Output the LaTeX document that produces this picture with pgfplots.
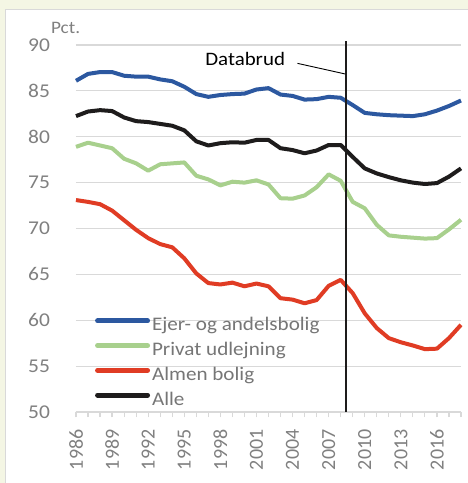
\documentclass[border=0pt]{standalone}
\usepackage{fontspec}
\setmainfont{Carlito}[FakeStretch=1.1]
\newfontfamily\tickfont{Carlito}
\usepackage{pgfplots}
\pgfplotsset{compat=1.18}
\definecolor{cream}{RGB}{244,246,228}
\definecolor{gridgray}{RGB}{217,217,217}
\definecolor{tickgray}{RGB}{128,128,128}
\definecolor{legendgray}{RGB}{118,118,118}
\definecolor{cblue}{RGB}{44,88,160}
\definecolor{cgreen}{RGB}{168,208,141}
\definecolor{cred}{RGB}{224,60,36}
\definecolor{cblack}{RGB}{30,28,28}
\begin{document}
\begin{tikzpicture}[x=1pt,y=1pt]
\fill[cream] (0,0) rectangle (468,483);
\fill[white] (5,0) rectangle (468,474);
\draw[gridgray, line width=0.8pt] (5.4,0) -- (5.4,473.6) -- (468,473.6);
\begin{axis}[
  at={(76pt,71pt)}, anchor=south west,
  width=385pt, height=367pt, scale only axis,
  xmin=1986, xmax=2018, ymin=50, ymax=90,
  axis x line*=bottom, axis y line*=left,
  y axis line style={draw=none},
  x axis line style={draw=gridgray, line width=1.2pt},
  ytick={50,55,...,90}, ytick style={draw=none},
  ymajorgrids, grid style={gridgray, line width=1.2pt},
  xtick={1986,1989,...,2016}, minor xtick={1986,...,2018},
  tick align=outside,
  major tick length=5pt, minor tick length=5pt,
  xtick style={draw=gridgray, line width=1.2pt},
  minor tick style={draw=gridgray, line width=1.2pt},
  xticklabel={\pgfmathprintnumber{\tick}\hspace*{9pt}},
  xticklabel style={rotate=90, anchor=east, font=\tickfont\fontsize{20}{20}\selectfont, text=tickgray},
  yticklabel style={font=\fontsize{19.5}{20}\selectfont, text=tickgray, xshift=-17.5pt},
  /pgf/number format/assume math mode=true,
  /pgf/number format/1000 sep={},
  clip=false,
  legend cell align=left,
  legend style={draw=none, fill=none, at={(0.049,0.266)}, anchor=north west, inner sep=0pt, row sep=0pt,
    nodes={inner xsep=2pt, inner ysep=2.85pt, text height=13.5pt, text depth=5.5pt, text=legendgray, font=\fontsize{19.2}{20}\selectfont}},
  legend image code/.code={\draw[#1, line width=5pt, line cap=round] (2.5pt,6pt) -- (52.5pt,6pt);},
  every axis plot/.append style={line width=4pt, line join=round, no markers},
]
\addplot[cblue] coordinates {
(1986,86.1) (1987,86.85) (1988,87.05) (1989,87.05) (1990,86.65) (1991,86.55) (1992,86.55)
(1993,86.25) (1994,86.05) (1995,85.45) (1996,84.65) (1997,84.35) (1998,84.55) (1999,84.65)
(2000,84.7) (2001,85.15) (2002,85.3) (2003,84.6) (2004,84.45) (2005,84.05) (2006,84.1)
(2007,84.35) (2008,84.25) (2009,83.45) (2010,82.6) (2011,82.45) (2012,82.35) (2013,82.3)
(2014,82.25) (2015,82.45) (2016,82.85) (2017,83.35) (2018,83.95)};
\addlegendentry{Ejer- og andelsbolig}
\addplot[cgreen] coordinates {
(1986,78.9) (1987,79.35) (1988,79.05) (1989,78.75) (1990,77.6) (1991,77.1) (1992,76.3)
(1993,77.0) (1994,77.1) (1995,77.2) (1996,75.75) (1997,75.35) (1998,74.7) (1999,75.1)
(2000,75.0) (2001,75.25) (2002,74.8) (2003,73.3) (2004,73.25) (2005,73.6) (2006,74.5)
(2007,75.9) (2008,75.2) (2009,72.9) (2010,72.2) (2011,70.4) (2012,69.25) (2013,69.1)
(2014,69.0) (2015,68.9) (2016,68.95) (2017,69.9) (2018,70.95)};
\addlegendentry{Privat udlejning}
\addplot[cred] coordinates {
(1986,73.1) (1987,72.9) (1988,72.65) (1989,71.95) (1990,70.9) (1991,69.85) (1992,68.95)
(1993,68.3) (1994,67.95) (1995,66.75) (1996,65.1) (1997,64.05) (1998,63.9) (1999,64.1)
(2000,63.7) (2001,64.0) (2002,63.7) (2003,62.4) (2004,62.25) (2005,61.85) (2006,62.2)
(2007,63.75) (2008,64.4) (2009,62.95) (2010,60.75) (2011,59.15) (2012,58.05) (2013,57.6)
(2014,57.25) (2015,56.85) (2016,56.9) (2017,58.05) (2018,59.5)};
\addlegendentry{Almen bolig}
\addplot[cblack] coordinates {
(1986,82.25) (1987,82.75) (1988,82.9) (1989,82.8) (1990,82.1) (1991,81.7) (1992,81.6)
(1993,81.4) (1994,81.2) (1995,80.7) (1996,79.5) (1997,79.05) (1998,79.3) (1999,79.4)
(2000,79.35) (2001,79.65) (2002,79.65) (2003,78.75) (2004,78.55) (2005,78.2) (2006,78.5)
(2007,79.1) (2008,79.1) (2009,77.8) (2010,76.55) (2011,76.0) (2012,75.6) (2013,75.25)
(2014,75.0) (2015,74.85) (2016,74.95) (2017,75.65) (2018,76.55)};
\addlegendentry{Alle}
\draw[cblack, line width=2pt] (axis cs:2008.45,50) -- (axis cs:2008.45,90.47);
\draw[black, line width=0.9pt] (axis cs:2004.41,88.0) -- (axis cs:2008.38,86.84);
\node[anchor=base, inner sep=0pt, text=black, font=\fontsize{19}{20}\selectfont] at (axis cs:2000.06,87.82) {Databrud};
\node[anchor=base west, inner sep=0pt, text=tickgray, font=\fontsize{17.5}{20}\selectfont] at (axis cs:1983.92,91.2) {Pct.};
\end{axis}
\pgfresetboundingbox
\path[use as bounding box] (0,0) rectangle (468,483);
\end{tikzpicture}
\end{document}
